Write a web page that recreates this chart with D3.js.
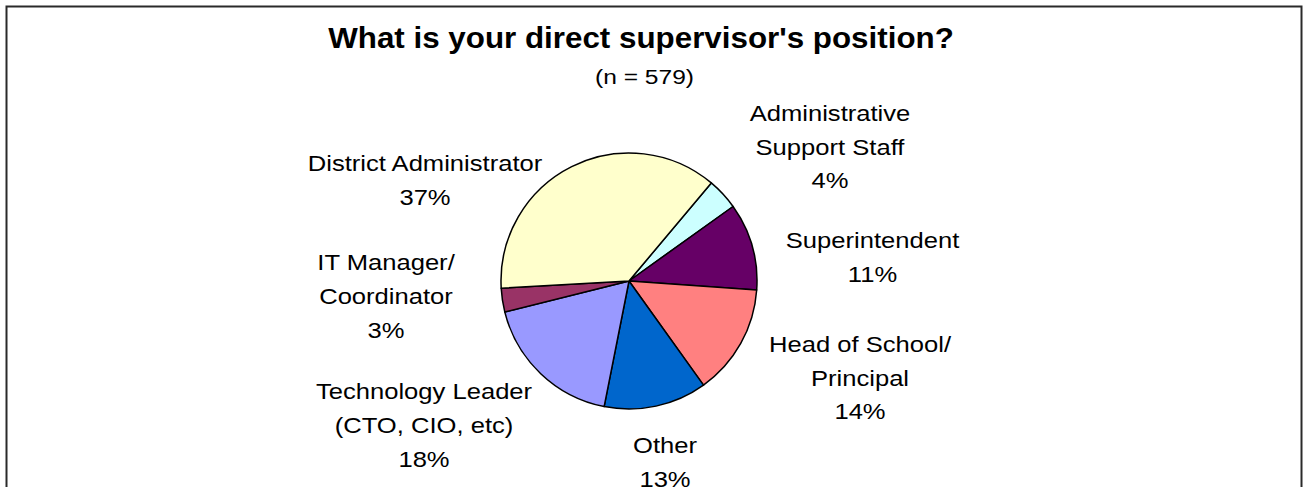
<!DOCTYPE html>
<html>
<head>
<meta charset="utf-8">
<script src="https://cdn.jsdelivr.net/npm/d3@7"></script>
<style>
  html, body { margin: 0; padding: 0; background: #fff; }
  svg { display: block; font-family: "Liberation Sans", Arial, sans-serif; }
</style>
</head>
<body>
<svg id="chart" width="1304" height="487"></svg>
<script>
// Survey answers, clockwise from the upper right
const categories = [
  "Administrative Support Staff",
  "Superintendent",
  "Head of School/ Principal",
  "Other",
  "Technology Leader (CTO, CIO, etc)",
  "IT Manager/ Coordinator",
  "District Administrator"
];
const labelLines = [
  ["Administrative", "Support Staff"],
  ["Superintendent"],
  ["Head of School/", "Principal"],
  ["Other"],
  ["Technology Leader", "(CTO, CIO, etc)"],
  ["IT Manager/", "Coordinator"],
  ["District Administrator"]
];
const percents = [4, 11, 14, 13, 18, 3, 37];
const colors = ["#CCFFFF", "#660066", "#FF8080", "#0066CC", "#9999FF", "#993366", "#FFFFCC"];
const titleText = "What is your direct supervisor's position?";
const subtitleText = "(n = 579)";

const svg = d3.select("#chart");

// chart frame
svg.append("rect")
  .attr("x", 6.5).attr("y", 6.5)
  .attr("width", 1295).attr("height", 520)
  .attr("fill", "#fff")
  .attr("stroke", "#2a2a2a")
  .attr("stroke-width", 2);

// title block
svg.append("text")
  .attr("transform", "translate(641,47.5) scale(1.045,1)")
  .attr("text-anchor", "middle")
  .attr("font-weight", "bold")
  .attr("font-size", 30)
  .attr("fill", "#000")
  .text(titleText);

svg.append("text")
  .attr("transform", "translate(644.5,84) scale(1.17,1)")
  .attr("text-anchor", "middle")
  .attr("font-size", 21)
  .attr("fill", "#000")
  .text(subtitleText);

// pie
const cx = 629, cy = 281, radius = 128;
const start = 40 * Math.PI / 180;

const pie = d3.pie()
  .sort(null)
  .value(d => d)
  .startAngle(start)
  .endAngle(start + 2 * Math.PI);

const arc = d3.arc().innerRadius(0).outerRadius(radius);

const g = svg.append("g").attr("transform", `translate(${cx},${cy})`);

g.selectAll("path")
  .data(pie(percents))
  .join("path")
  .attr("d", arc)
  .attr("fill", (d, i) => colors[i])
  .attr("stroke", "#000")
  .attr("stroke-width", 1.5)
  .attr("stroke-linejoin", "round");

// label anchors: centre x and first baseline of each label block
const labelLayout = {
  "Administrative Support Staff": [830, 120.7],
  "Superintendent": [872.5, 248.3],
  "Head of School/ Principal": [860, 351.7],
  "Other": [665, 453],
  "Technology Leader (CTO, CIO, etc)": [424, 399],
  "IT Manager/ Coordinator": [386, 270],
  "District Administrator": [425, 170.7]
};
const lineStep = 33.8;

const labels = svg.append("g").attr("font-size", 22).attr("fill", "#000");

categories.forEach((cat, i) => {
  const [lx, ly] = labelLayout[cat];
  const lines = labelLines[i].concat([percents[i] + "%"]);
  lines.forEach((t, j) => {
    labels.append("text")
      .attr("transform", `translate(${lx},${ly + j * lineStep}) scale(1.163,1)`)
      .attr("text-anchor", "middle")
      .text(t);
  });
});
</script>
</body>
</html>
